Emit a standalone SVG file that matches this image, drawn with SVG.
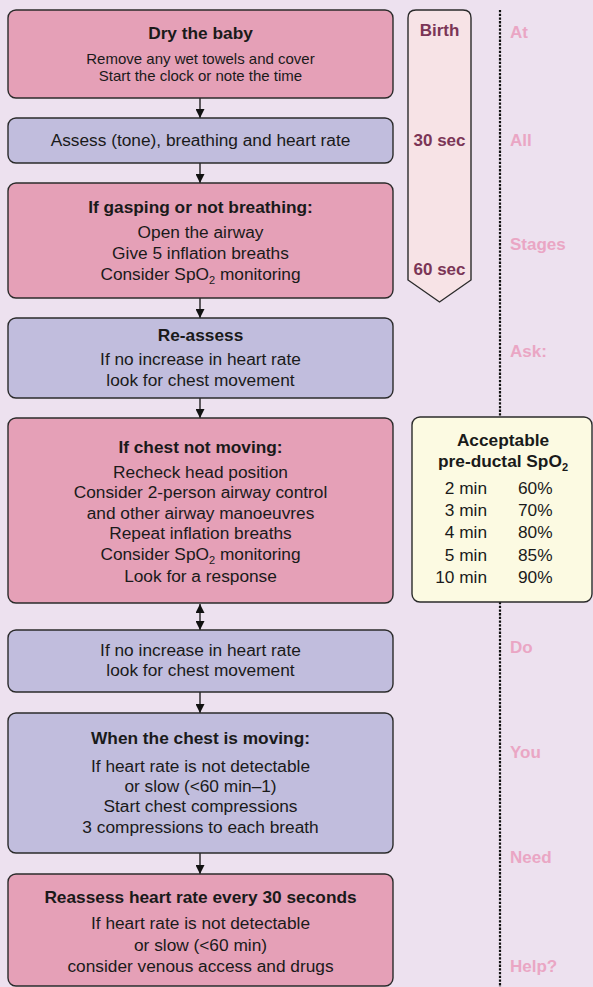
<svg xmlns="http://www.w3.org/2000/svg" width="593" height="987" viewBox="0 0 593 987">
<style>
.box{stroke:#2b2b2b;stroke-width:1.4}
.pink{fill:#e5a0b7}
.blue{fill:#c1bddd}
text{font-family:"Liberation Sans",Arial,sans-serif;fill:#1a1a1a;text-anchor:middle}
.t{font-size:17.3px;font-weight:bold}
.b{font-size:17.3px}
.s{font-size:15px}
.tl{font-size:17px;font-weight:bold;fill:#7b3556}
.side{font-size:17px;font-weight:bold;fill:#eaa6c4;text-anchor:start}
.sub{font-size:11px}
.conn{stroke:#111;stroke-width:1.3;fill:none}
</style>
<defs>
<marker id="ah" viewBox="0 0 10 10" refX="10" refY="5" markerWidth="9" markerHeight="9" markerUnits="userSpaceOnUse" orient="auto-start-reverse">
<path d="M0,0 L10,5 L0,10 z" fill="#111"/>
</marker>
</defs>
<rect x="0" y="0" width="593" height="987" fill="#ede1ef"/>

<line x1="500" y1="10" x2="500" y2="987" stroke="#111" stroke-width="2.2" stroke-dasharray="2.3 1.4"/>

<g id="timeline">
<path d="M408,18 Q408,10 416,10 L463,10 Q471,10 471,18 L471,280 L439.5,302 L408,280 Z" fill="#f7e3e6" stroke="#2b2b2b" stroke-width="1.4"/>
<text class="tl" x="439.5" y="36">Birth</text>
<text class="tl" x="439.5" y="146">30 sec</text>
<text class="tl" x="439.5" y="275">60 sec</text>
</g>

<g id="side-labels">
<text class="side" x="510" y="38">At</text>
<text class="side" x="510" y="146">All</text>
<text class="side" x="510" y="250">Stages</text>
<text class="side" x="510" y="357">Ask:</text>
<text class="side" x="510" y="653">Do</text>
<text class="side" x="510" y="758">You</text>
<text class="side" x="510" y="863">Need</text>
<text class="side" x="510" y="972">Help?</text>
</g>

<g id="connectors">
<line class="conn" x1="200" y1="98" x2="200" y2="118" marker-end="url(#ah)"/>
<line class="conn" x1="200" y1="163" x2="200" y2="183" marker-end="url(#ah)"/>
<line class="conn" x1="200" y1="298" x2="200" y2="318" marker-end="url(#ah)"/>
<line class="conn" x1="200" y1="398" x2="200" y2="418" marker-end="url(#ah)"/>
<line class="conn" x1="200" y1="604" x2="200" y2="630" marker-start="url(#ah)" marker-end="url(#ah)"/>
<line class="conn" x1="200" y1="692" x2="200" y2="713" marker-end="url(#ah)"/>
<line class="conn" x1="200" y1="853" x2="200" y2="874" marker-end="url(#ah)"/>
</g>

<g id="n1">
<rect class="box pink" x="8" y="10" width="385" height="88" rx="8"/>
<text class="t" x="200.5" y="39">Dry the baby</text>
<text class="s" x="200.5" y="64">Remove any wet towels and cover</text>
<text class="s" x="200.5" y="81">Start the clock or note the time</text>
</g>

<g id="n2">
<rect class="box blue" x="8" y="118" width="385" height="45" rx="8"/>
<text class="b" x="200.5" y="146">Assess (tone), breathing and heart rate</text>
</g>

<g id="n3">
<rect class="box pink" x="8" y="183" width="385" height="115" rx="8"/>
<text class="t" x="200.5" y="213">If gasping or not breathing:</text>
<text class="b" x="200.5" y="238">Open the airway</text>
<text class="b" x="200.5" y="259">Give 5 inflation breaths</text>
<text class="b" x="200.5" y="280">Consider SpO<tspan class="sub" dy="4">2</tspan><tspan dy="-4"> monitoring</tspan></text>
</g>

<g id="n4">
<rect class="box blue" x="8" y="318" width="385" height="80" rx="8"/>
<text class="t" x="200.5" y="341">Re-assess</text>
<text class="b" x="200.5" y="365">If no increase in heart rate</text>
<text class="b" x="200.5" y="386">look for chest movement</text>
</g>

<g id="n5">
<rect class="box pink" x="8" y="418" width="385" height="185" rx="8"/>
<text class="t" x="200.5" y="453">If chest not moving:</text>
<text class="b" x="200.5" y="478">Recheck head position</text>
<text class="b" x="200.5" y="498">Consider 2-person airway control</text>
<text class="b" x="200.5" y="519">and other airway manoeuvres</text>
<text class="b" x="200.5" y="539">Repeat inflation breaths</text>
<text class="b" x="200.5" y="560">Consider SpO<tspan class="sub" dy="4">2</tspan><tspan dy="-4"> monitoring</tspan></text>
<text class="b" x="200.5" y="582">Look for a response</text>
</g>

<g id="n6">
<rect class="box blue" x="8" y="630" width="385" height="62" rx="8"/>
<text class="b" x="200.5" y="656">If no increase in heart rate</text>
<text class="b" x="200.5" y="676">look for chest movement</text>
</g>

<g id="n7">
<rect class="box blue" x="8" y="713" width="385" height="140" rx="8"/>
<text class="t" x="200.5" y="744">When the chest is moving:</text>
<text class="b" x="200.5" y="772">If heart rate is not detectable</text>
<text class="b" x="200.5" y="792">or slow (&lt;60 min–1)</text>
<text class="b" x="200.5" y="812">Start chest compressions</text>
<text class="b" x="200.5" y="833">3 compressions to each breath</text>
</g>

<g id="n8">
<rect class="box pink" x="8" y="874" width="385" height="112" rx="8"/>
<text class="t" x="200.5" y="903">Reassess heart rate every 30 seconds</text>
<text class="b" x="200.5" y="929">If heart rate is not detectable</text>
<text class="b" x="200.5" y="951">or slow (&lt;60 min)</text>
<text class="b" x="200.5" y="972">consider venous access and drugs</text>
</g>

<g id="spo2">
<rect class="box" x="412" y="417" width="180" height="185" rx="8" fill="#fcfae2"/>
<text class="t" x="503" y="446">Acceptable</text>
<text class="t" x="503" y="467">pre-ductal SpO<tspan class="sub" dy="4">2</tspan></text>
<text class="b" x="487" y="494" style="text-anchor:end">2 min</text>
<text class="b" x="518" y="494" style="text-anchor:start">60%</text>
<text class="b" x="487" y="516" style="text-anchor:end">3 min</text>
<text class="b" x="518" y="516" style="text-anchor:start">70%</text>
<text class="b" x="487" y="538" style="text-anchor:end">4 min</text>
<text class="b" x="518" y="538" style="text-anchor:start">80%</text>
<text class="b" x="487" y="561" style="text-anchor:end">5 min</text>
<text class="b" x="518" y="561" style="text-anchor:start">85%</text>
<text class="b" x="487" y="583" style="text-anchor:end">10 min</text>
<text class="b" x="518" y="583" style="text-anchor:start">90%</text>
</g>
</svg>
